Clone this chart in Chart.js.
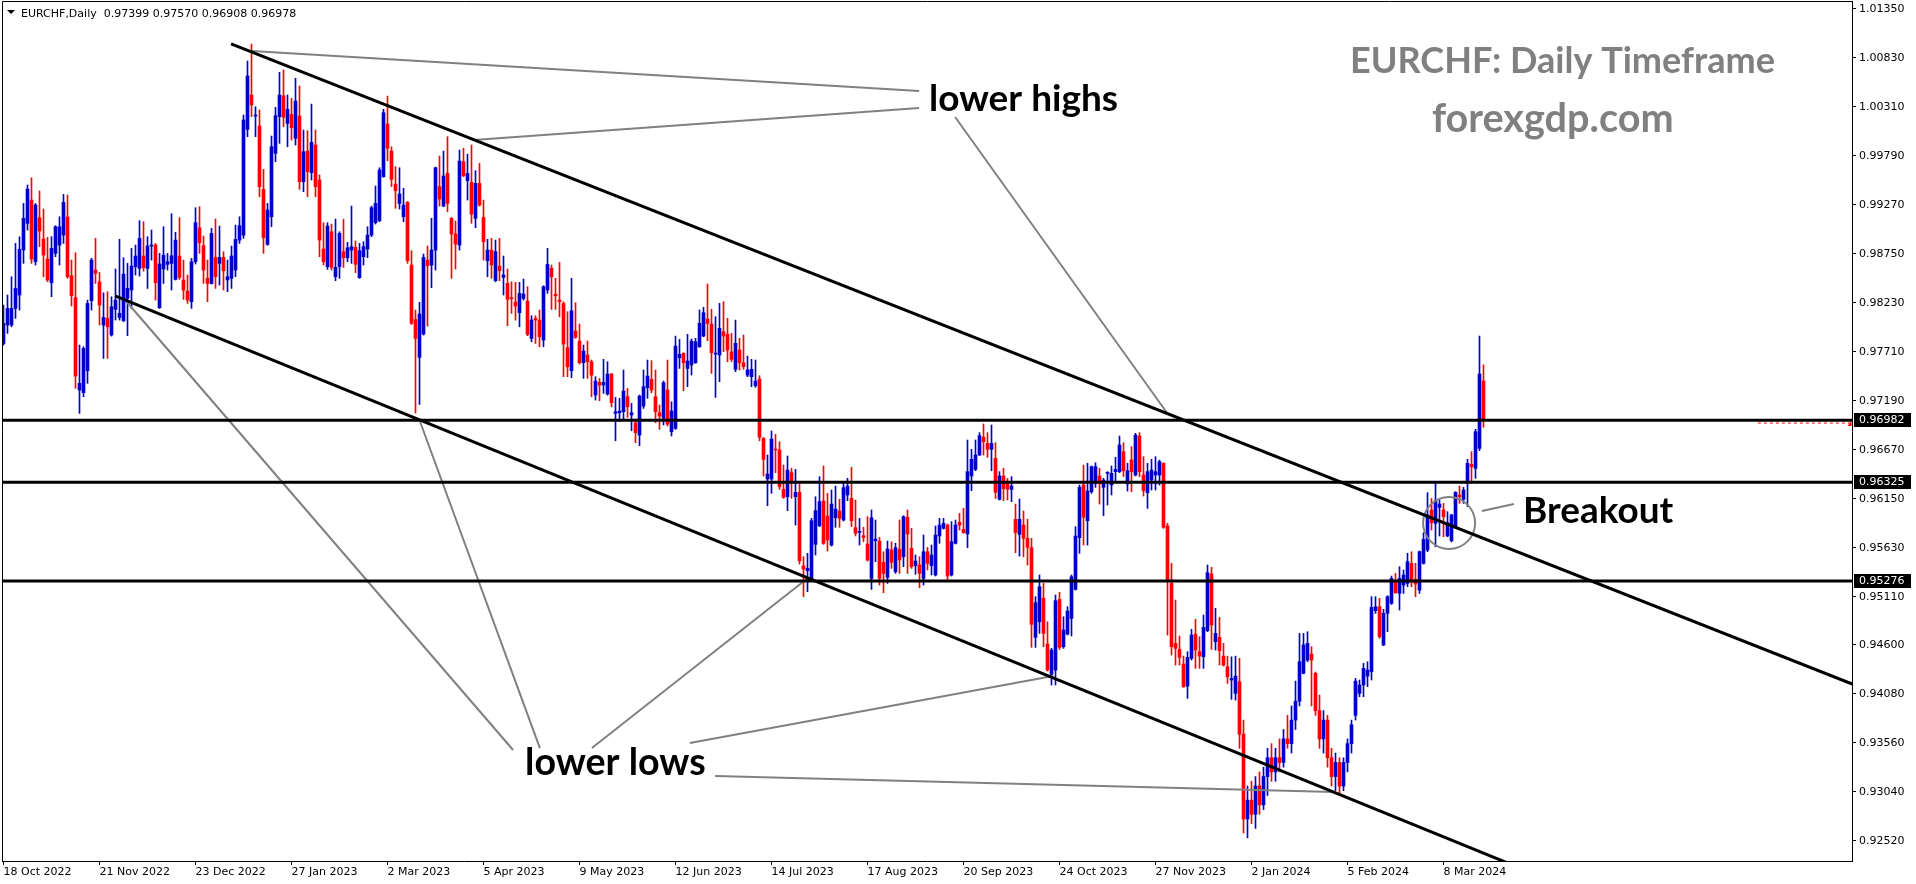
<!DOCTYPE html>
<html>
<head>
<meta charset="utf-8">
<title>EURCHF Daily</title>
<script src="https://cdn.jsdelivr.net/npm/chart.js@4.4.1/dist/chart.umd.min.js"></script>
<style>
  html, body { margin: 0; padding: 0; background: #fff; overflow: hidden; }
  #wrap { width: 1916px; height: 884px; }
</style>
</head>
<body>
<div id="wrap"><canvas id="chart" width="1916" height="884"></canvas></div>
<script>
// EURCHF daily candles, prices in points (1 point = 0.00001), first bar = 18 Oct 2022
const opens = [
  97798,97993,97993,98170,98312,98790,99073,99320,98666,99133,
  98906,98694,98443,98754,98842,98948,99140,98517,98283,97303,
  97275,97508,98251,98577,98450,97993,98064,97887,98159,98074,
  98039,98276,98365,98612,98595,98726,98595,98832,98842,98177,
  98588,98637,98648,98478,98726,98471,98354,98241,98665,99026,
  98835,98489,98435,98711,98648,98711,98471,98489,98577,98895,
  98948,100070,100435,100212,100106,99433,98849,99143,99816,100205,
  100428,100134,100230,99975,100212,99515,99840,99610,99904,99533,
  98800,98612,98984,98506,98612,98772,98708,98789,98818,98496,
  98719,98800,98948,99080,99101,99568,100127,99840,99490,99284,
  99143,99295,98630,98053,97650,97897,98683,98630,98789,99462,
  99256,99603,99126,98959,98842,99727,99525,99508,99126,99497,
  99136,98676,98789,98464,98619,98499,98435,98283,98237,98124,
  98276,98248,97851,98064,98046,97834,98365,98595,98319,98258,
  98223,97753,97508,97930,97823,97593,97675,97604,97250,97385,
  97356,97261,97473,97055,97062,97073,97232,97038,96956,96825,
  97133,97328,97416,97232,97062,97002,97303,96861,96896,97646,
  97692,97533,97569,97593,97763,97876,98057,98004,97685,97675,
  97922,97894,97710,97523,97728,97593,97462,97445,97349,97420,
  96790,96359,96359,96677,96667,96249,96171,96426,96171,96217,
  95435,95386,95286,95665,95863,96125,95966,95658,95948,96019,
  95924,96189,96153,95842,95793,95757,95669,95304,95704,95700,
  95474,95315,95605,95375,95612,95534,95952,95623,95439,95446,
  95304,95587,95439,95340,95754,95835,95870,95340,95676,95899,
  95824,95775,96391,96461,96614,96801,96737,96674,96578,96143,
  96391,96313,96249,95931,95771,95870,95729,95630,94678,94844,
  95092,94607,94285,94331,95081,94579,94713,94879,95187,95736,
  96295,95916,96224,96313,96391,96270,96419,96295,96437,96437,
  96649,96306,96561,96401,96815,96401,96214,96348,96401,96401,
  96525,95860,95251,94614,94550,94395,94161,94455,94713,94526,
  94472,94749,95350,94632,94678,94479,94366,94225,94083,94207,
  93650,92750,92950,92800,93100,92900,93200,93400,93250,93400,
  93350,93600,93550,93800,94000,94296,94437,94501,94296,93900,
  93600,93800,93400,93200,93350,93100,93350,93550,93850,94083,
  94172,94267,94313,94961,95003,94597,94933,95039,95269,95145,
  95233,95251,95463,95294,95180,95463,95605,96030,95888,96058,
  96030,95754,95704,95853,96189,96143,96313,96515,96472,96684,
  97399
];
const highs = [
  98205,98312,98506,98860,98931,99284,99479,99557,99284,99416,
  99225,98924,98931,99048,99143,99380,99373,98683,98761,97781,
  97763,98258,98701,98913,98552,98336,98347,98294,98588,98903,
  98708,98648,98807,98842,99101,99090,98931,99002,98860,98754,
  99037,98754,99175,98977,99133,98683,98524,98701,99239,99249,
  98938,98683,99019,99118,99044,98772,98683,98832,99055,99143,
  100223,100796,100976,100311,100276,99646,99284,100000,100304,100676,
  100700,100435,100400,100612,100530,100063,100056,100339,100063,99586,
  99079,99079,99065,99118,98984,99115,98871,99256,98885,98860,
  98878,99037,99256,99469,99663,100283,100424,99886,99674,99663,
  99444,99305,98782,98152,98234,98747,98832,99126,99670,99787,
  99840,99993,99135,99097,99851,99869,99808,99904,99632,99709,
  99320,98903,98913,98895,98913,98726,98588,98453,98446,98446,
  98481,98400,98092,98092,98152,98410,98807,98630,98489,98658,
  98240,98135,98489,98230,98004,97781,97823,97622,97445,97427,
  97629,97604,97480,97225,97215,97516,97321,97162,96995,97250,
  97516,97622,97615,97516,97144,97399,97622,97179,97876,97841,
  97699,97894,97845,97852,98153,98181,98429,98160,98082,98223,
  98241,98064,97905,98046,97852,97887,97664,97629,97622,97455,
  96800,96614,96868,96833,96755,96507,96603,96472,96461,96313,
  95534,95570,95941,96171,96384,96497,96207,96242,96284,96143,
  96313,96366,96483,96136,95941,95846,95959,96030,95924,95739,
  95587,95700,95693,95676,95924,95969,96030,95835,95552,95534,
  95764,95633,95658,95860,95941,95941,95881,95906,95923,95994,
  96047,96773,96674,96773,96851,96943,96851,96932,96744,96437,
  96472,96366,96384,96093,96146,96019,95931,95729,95110,95340,
  95251,94844,94561,95127,95156,94897,95003,95340,95853,96295,
  96507,96525,96497,96532,96472,96366,96437,96497,96589,96815,
  96744,96525,96702,96844,96851,96596,96525,96568,96596,96560,
  96532,95888,95463,95074,94692,94479,94526,94763,94869,94685,
  94915,95446,95421,94986,94890,94614,94479,94472,94479,94455,
  93800,93100,93150,93200,93250,93300,93500,93550,93500,93600,
  93700,93850,93950,94214,94720,94720,94738,94579,94310,94065,
  93900,93850,93500,93450,93400,93400,93600,93800,94242,94225,
  94402,94419,95110,95110,95092,94975,95120,95329,95357,95428,
  95393,95570,95587,95463,95595,95789,96214,96153,96313,96136,
  96100,96012,95985,96225,96284,96270,96568,96649,96886,97877,
  97570
];
const lows = [
  97781,97905,97975,98064,98152,98648,99002,98648,98630,98825,
  98506,98453,98294,98719,98630,98860,98489,98195,97321,97055,
  97232,97374,98152,98435,97993,97639,97639,97876,98046,98046,
  98028,97880,98170,98524,98513,98566,98382,98683,98258,98170,
  98435,98577,98365,98471,98478,98266,98223,98170,98641,98754,
  98435,98241,98428,98382,98418,98365,98347,98382,98506,98860,
  98913,99993,100205,99993,99355,98754,98840,99037,99727,99922,
  100099,99886,99957,99904,99433,99409,99355,99533,99355,98719,
  98630,98584,98577,98464,98489,98605,98665,98648,98549,98489,
  98630,98708,98931,99065,99090,99561,99738,99462,99232,99225,
  99090,98648,98000,97060,97150,97887,97982,98389,98577,99256,
  99249,99196,98489,98588,98789,99568,99320,99073,99026,99256,
  98683,98506,98489,98453,98464,98312,97986,98117,98046,97975,
  98258,97880,97816,97798,97763,97763,98329,98159,98159,98081,
  97445,97445,97434,97852,97579,97427,97427,97232,97197,97190,
  97268,97250,97126,96765,96967,96985,97013,96871,96744,96712,
  97108,97215,97275,96956,96886,96932,96921,96815,96886,97533,
  97296,97339,97462,97586,97756,97869,97827,97480,97225,97392,
  97710,97604,97604,97498,97516,97523,97445,97339,97332,96765,
  96390,96076,96207,96426,96249,96153,96023,96153,95870,95456,
  95110,95163,95276,95552,95853,95665,95594,95647,95846,95846,
  95913,96129,95853,95754,95658,95693,95488,95187,95481,95233,
  95152,95251,95410,95357,95357,95428,95357,95410,95347,95205,
  95233,95393,95340,95329,95676,95828,95286,95329,95669,95817,
  95782,95630,96235,96447,96607,96614,96589,96447,96153,96136,
  96129,96136,96118,95577,95541,95534,95446,94572,94572,94720,
  94579,94320,94172,94172,94550,94561,94703,94692,95180,95570,
  95658,95658,96207,96270,96093,95969,96083,96189,96330,96426,
  96384,96231,96224,96391,96384,96178,96047,96242,96242,96295,
  95835,94702,94490,94384,94384,94147,94030,94437,94349,94349,
  94349,94738,94550,94543,94384,94373,94189,94020,94012,93500,
  92600,92550,92700,92650,92800,92850,93000,93150,93150,93250,
  93300,93500,93450,93700,93950,94290,94420,93950,93850,93500,
  93450,93300,93100,93050,93000,93050,93250,93450,93800,94048,
  94048,94154,94225,94933,94667,94590,94738,95028,95145,94968,
  95145,95216,95216,95110,95145,95456,95587,95817,95640,95754,
  95747,95747,95690,95846,96100,96100,96065,96313,96366,96660,
  96908
];
const closes = [
  98011,98170,98170,98382,98797,99126,99436,98694,99267,98991,
  98737,98471,98807,99037,99037,99295,98506,98304,97452,97374,
  97745,98223,98683,98542,98205,98074,97975,98188,98258,98117,
  98534,98382,98619,98726,98913,98602,98832,98832,98443,98641,
  98736,98665,98729,98895,98499,98365,98258,98665,99080,98867,
  98577,98435,98966,98506,98711,98570,98506,98726,98902,99048,
  100170,100637,100329,100212,99462,98920,99214,99886,100215,100435,
  100198,100283,100088,100371,99515,99833,99621,99932,99462,98895,
  98665,99044,98605,98605,98966,98708,98814,98825,98637,98782,
  98825,98948,99239,99284,99639,100247,99869,99540,99419,99384,
  99267,98676,98011,97851,98110,98711,98623,98789,99663,99331,
  99575,99285,98959,98853,99734,99578,99603,99171,99497,99267,
  98878,98789,98630,98772,98570,98524,98266,98273,98195,98329,
  98322,97894,98046,98046,97869,98400,98637,98506,98304,98241,
  97791,97551,98145,97862,97593,97717,97604,97462,97399,97356,
  97385,97473,97169,97073,97080,97293,97126,97062,96850,97239,
  97339,97452,97303,97073,97027,97381,96942,97080,97770,97682,
  97593,97611,97823,97816,98011,98124,98011,97699,97685,97958,
  97876,97728,97629,97799,97593,97551,97516,97523,97399,96801,
  96567,96412,96783,96667,96277,96164,96454,96341,96217,95491,
  95403,95410,95916,96023,96118,95676,95711,96093,96040,95941,
  96267,96284,95916,95782,95793,95739,95499,95948,95722,95304,
  95357,95616,95474,95630,95499,95959,95775,95428,95488,95357,
  95587,95463,95552,95764,95870,95888,95329,95693,95870,95870,
  95789,96437,96568,96614,96819,96755,96674,96737,96217,96391,
  96256,96249,96284,95789,95931,95729,95633,94816,95046,95216,
  94720,94331,94543,95067,94572,94756,94957,95322,95754,96270,
  95952,96231,96490,96490,96313,96348,96426,96419,96461,96720,
  96447,96447,96437,96826,96437,96235,96437,96454,96437,96543,
  95846,95286,94579,94561,94465,94154,94465,94702,94543,94479,
  94784,95364,94809,94720,94536,94384,94260,94242,94267,93650,
  92750,92950,92800,93100,92900,93200,93400,93250,93400,93350,
  93600,93550,93800,94000,94419,94597,94614,94437,93900,93600,
  93800,93400,93200,93350,93100,93350,93550,93750,94214,94172,
  94349,94331,94996,95003,94685,94933,95110,95304,95152,95304,
  95340,95481,95286,95244,95587,95718,95977,95895,96129,96093,
  95959,95895,95977,96217,96171,96242,96525,96490,96861,97473,
  96978
];

// axis ticks
const xTickBars = [0, 24, 48, 72, 96, 120, 144, 168, 192, 216, 240, 264, 288, 312, 336, 360];
const xTickLabels = ['18 Oct 2022', '21 Nov 2022', '23 Dec 2022', '27 Jan 2023', '2 Mar 2023', '5 Apr 2023',
  '9 May 2023', '12 Jun 2023', '14 Jul 2023', '17 Aug 2023', '20 Sep 2023', '24 Oct 2023',
  '27 Nov 2023', '2 Jan 2024', '5 Feb 2024', '8 Mar 2024'];
const yTicks = [1.01350, 1.00830, 1.00310, 0.99790, 0.99270, 0.98750, 0.98230, 0.97710, 0.97190,
  0.96670, 0.96150, 0.95630, 0.95110, 0.94600, 0.94080, 0.93560, 0.93040, 0.92520];

// horizontal levels and drawn objects (bar index, price)
const levels = [0.96982, 0.96325, 0.95276];
const channelTop = [[56.9, 1.00977], [462.2, 0.94183]];
const channelBottom = [[27.9, 0.98302], [381.6, 0.92187]];
const pointerLines = [
  [[62.1, 1.00902], [228.9, 1.00478]],
  [[117.6, 0.99958], [228.9, 1.00297]],
  [[237.9, 1.00202], [290.9, 0.97060]],
  [[30.4, 0.98259], [127.4, 0.93482]],
  [[103.9, 0.96996], [134.1, 0.93503]],
  [[201.1, 0.95308], [147.1, 0.93503]],
  [[262.4, 0.94267], [171.6, 0.93556]],
  [[332.6, 0.93036], [177.9, 0.93206]],
  [[369.6, 0.96019], [377.6, 0.96093]]
];
const breakoutCircle = { x: 361.4, y: 0.95892, r: 26 };
const bidLine = [[438.6, 0.96953], [462.0, 0.96953]];

const notes = [
  { text: 'EURCHF: Daily Timeframe', x: 336.6, y: 1.00669, w: 425, color: '#808080' },
  { text: 'forexgdp.com', x: 357.1, y: 1.00043, w: 242, color: '#808080' },
  { text: 'lower highs', x: 231.4, y: 1.00266, w: 189, color: '#000' },
  { text: 'lower lows', x: 130.4, y: 0.93216, w: 181, color: '#000' },
  { text: 'Breakout', x: 379.9, y: 0.95892, w: 150, color: '#000' }
];
const header = 'EURCHF,Daily  0.97399 0.97570 0.96908 0.96978';

const P = v => v / 1e5;
const bars = opens.map((o, i) => i);
const candleColors = bars.map(i => closes[i] >= opens[i] ? '#0000cd' : '#ff0000');

const seg = (pts, color, width, extra) => Object.assign({
  type: 'line',
  data: pts.map(([x, y]) => ({ x, y })),
  borderColor: color,
  borderWidth: width,
  pointRadius: 0,
  fill: false,
  tension: 0,
  order: 1
}, extra || {});

const datasets = [
  {
    type: 'bar',
    data: bars.map(i => ({ x: i, y: [P(lows[i]), P(highs[i])] })),
    backgroundColor: candleColors,
    barThickness: 1,
    grouped: false,
    borderWidth: 0,
    order: 10
  },
  {
    type: 'bar',
    data: bars.map(i => ({ x: i, y: [P(opens[i]), P(closes[i])] })),
    backgroundColor: candleColors,
    barThickness: 3,
    minBarLength: 1,
    grouped: false,
    borderWidth: 0,
    order: 9
  },
  ...levels.map(v => seg([[-0.375, v], [462.2, v]], '#000', 3)),
  seg(channelTop, '#000', 3),
  seg(channelBottom, '#000', 3),
  ...pointerLines.map(p => seg(p, '#808080', 2)),
  seg(bidLine, '#ff0000', 1, { borderDash: [3, 3] }),
  {
    type: 'bubble',
    data: [breakoutCircle],
    backgroundColor: 'rgba(0,0,0,0)',
    borderColor: '#808080',
    borderWidth: 2,
    order: 1
  }
];

// fit bold text to a target width
function fitText(ctx, text, x, y, w, color) {
  ctx.font = 'bold 100px Lato';
  const size = 100 * w / ctx.measureText(text).width;
  ctx.font = 'bold ' + size.toFixed(1) + 'px Lato';
  ctx.fillStyle = color;
  ctx.textBaseline = 'alphabetic';
  ctx.textAlign = 'left';
  ctx.fillText(text, x, y);
}

const extras = {
  id: 'extras',
  afterDraw(chart) {
    const { ctx, chartArea: a, scales: { x, y } } = chart;
    ctx.save();
    // top and left frame
    ctx.strokeStyle = '#000';
    ctx.lineWidth = 1;
    ctx.beginPath();
    ctx.moveTo(a.left + 0.5, a.bottom);
    ctx.lineTo(a.left + 0.5, a.top + 0.5);
    ctx.lineTo(a.right, a.top + 0.5);
    ctx.stroke();

    // level price boxes on the axis
    ctx.font = '11px "DejaVu Sans"';
    ctx.textBaseline = 'middle';
    ctx.textAlign = 'left';
    levels.forEach(v => {
      const py = Math.round(y.getPixelForValue(v));
      ctx.fillStyle = '#000';
      ctx.fillRect(a.right + 2, py - 7, 57, 14);
      ctx.fillStyle = '#fff';
      ctx.fillText(v.toFixed(5), a.right + 7, py + 0.5);
    });

    // bid arrow
    const bx = x.getPixelForValue(bidLine[1][0]);
    const by = y.getPixelForValue(bidLine[1][1]);
    ctx.fillStyle = '#ff0000';
    ctx.beginPath();
    ctx.moveTo(bx - 4, by + 3);
    ctx.lineTo(bx, by - 2);
    ctx.lineTo(bx, by + 3);
    ctx.closePath();
    ctx.fill();

    // annotations
    notes.forEach(n => fitText(ctx, n.text, x.getPixelForValue(n.x), y.getPixelForValue(n.y), n.w, n.color));

    // header
    ctx.fillStyle = '#000';
    ctx.beginPath();
    ctx.moveTo(7, 10);
    ctx.lineTo(15, 10);
    ctx.lineTo(11, 14);
    ctx.closePath();
    ctx.fill();
    ctx.font = '11px "DejaVu Sans"';
    ctx.textBaseline = 'alphabetic';
    ctx.fillText(header, 21, 17);
    ctx.restore();
  }
};

new Chart(document.getElementById('chart'), {
  type: 'bar',
  data: { datasets },
  options: {
    responsive: false,
    animation: false,
    devicePixelRatio: 1,
    events: [],
    layout: { autoPadding: false, padding: { left: 2, top: 1, right: 0, bottom: 0 } },
    plugins: { legend: { display: false }, tooltip: { enabled: false } },
    scales: {
      x: {
        type: 'linear',
        offset: false,
        min: -0.375,
        max: 462.125,
        afterBuildTicks: s => { s.ticks = xTickBars.map(v => ({ value: v })); },
        afterFit: s => { s.height = 23; s.paddingLeft = 0; s.paddingRight = 0; },
        ticks: {
          callback: (v, i) => xTickLabels[i],
          align: 'start',
          autoSkip: false,
          maxRotation: 0,
          padding: 1,
          color: '#000',
          font: { family: 'DejaVu Sans', size: 11 }
        },
        grid: { offset: false, drawOnChartArea: false, drawTicks: true, tickLength: 4, color: '#000' },
        border: { display: true, color: '#000', width: 1 }
      },
      y: {
        type: 'linear',
        position: 'right',
        min: 0.92304,
        max: 1.01433,
        afterBuildTicks: s => { s.ticks = yTicks.map(v => ({ value: v })); },
        afterFit: s => { s.width = 64; s.paddingTop = 0; s.paddingBottom = 0; },
        ticks: {
          callback: v => v.toFixed(5),
          autoSkip: false,
          padding: 3,
          color: '#000',
          font: { family: 'DejaVu Sans', size: 11 }
        },
        grid: { drawOnChartArea: false, drawTicks: true, tickLength: 4, color: '#000' },
        border: { display: true, color: '#000', width: 1 }
      }
    }
  },
  plugins: [extras]
});
</script>
</body>
</html>
